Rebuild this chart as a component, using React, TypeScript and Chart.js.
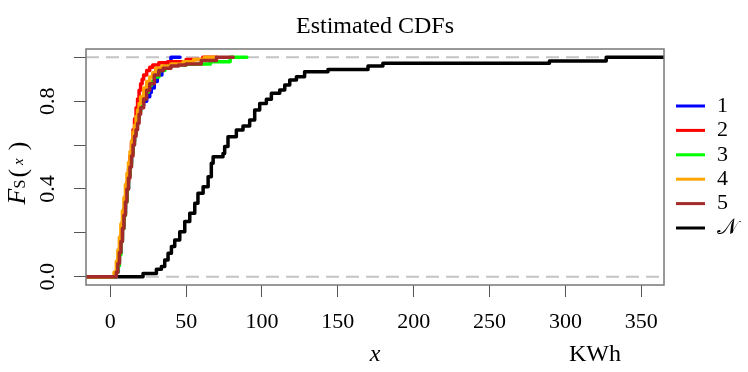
import React, { useEffect, useRef } from "react";
import { Chart, registerables } from "chart.js";

Chart.register(...registerables);

// ---------- data ----------
const seriesLabels = ["1", "2", "3", "4", "5", "𝒩"];
const seriesColors = ["#0000FF", "#FF0000", "#00FF00", "#FFA500", "#A52A2A", "#000000"];

const s1X = [-16, 3.5, 5, 6, 7, 8, 9, 10, 11, 12, 13, 14, 15, 16, 17, 18, 19, 20, 22, 24, 26, 27, 29, 31, 34, 36, 38, 40, 46];
const s1F = [0, 0.02, 0.06, 0.11, 0.17, 0.23, 0.29, 0.35, 0.4, 0.46, 0.52, 0.57, 0.62, 0.66, 0.7, 0.73, 0.76, 0.78, 0.8, 0.82, 0.84, 0.86, 0.89, 0.92, 0.95, 0.97, 0.98, 1.0, 1.0];

const s2X = [-16, 3, 4.5, 6, 7, 8, 9, 10, 11, 12, 13, 14, 15, 16, 17, 18, 19, 20, 21, 22, 24, 26, 28, 32, 38, 50, 61, 70];
const s2F = [0, 0.02, 0.07, 0.13, 0.19, 0.25, 0.31, 0.37, 0.43, 0.49, 0.55, 0.61, 0.67, 0.72, 0.77, 0.81, 0.85, 0.88, 0.9, 0.92, 0.94, 0.955, 0.965, 0.975, 0.98, 0.99, 1.0, 1.0];

const s3X = [-16, 3.5, 5, 6, 7, 8, 9, 10, 11, 12, 13, 14, 15, 16, 17, 18, 19, 20, 21, 23, 25, 27, 29, 32, 36, 40, 50, 57, 66, 79, 90];
const s3F = [0, 0.02, 0.05, 0.1, 0.16, 0.22, 0.28, 0.34, 0.4, 0.46, 0.51, 0.56, 0.61, 0.65, 0.69, 0.72, 0.75, 0.78, 0.81, 0.84, 0.87, 0.89, 0.91, 0.94, 0.955, 0.965, 0.968, 0.97, 0.98, 1.0, 1.0];

const s4X = [-16, 2.5, 4, 5, 6, 7, 8, 9, 10, 11, 12, 13, 14, 15, 16, 17, 18, 19, 20, 22, 24, 26, 28, 30, 34, 40, 48, 55, 62, 70];
const s4F = [0, 0.02, 0.07, 0.12, 0.18, 0.24, 0.3, 0.36, 0.42, 0.47, 0.52, 0.57, 0.62, 0.66, 0.69, 0.73, 0.76, 0.79, 0.82, 0.86, 0.89, 0.91, 0.93, 0.95, 0.96, 0.97, 0.98, 0.99, 1.0, 1.0];

const s5X = [-16, 4, 5, 6, 7, 8, 9, 10, 11, 12, 13, 14, 15, 16, 17, 18, 19, 20, 22, 24, 26, 29, 32, 35, 40, 45, 50, 60, 70, 81];
const s5F = [0, 0.02, 0.06, 0.11, 0.16, 0.22, 0.28, 0.34, 0.4, 0.45, 0.5, 0.55, 0.6, 0.64, 0.67, 0.7, 0.74, 0.77, 0.81, 0.85, 0.88, 0.92, 0.94, 0.95, 0.96, 0.965, 0.97, 0.985, 1.0, 1.0];

const sNX = [-16, 21.6, 30.4, 33.7, 35.9, 38.1, 40.3, 42.5, 45.8, 49.1, 52.4, 55.7, 57.8, 61.2, 64.5, 66.6, 67.8, 74.3, 75.4, 77.6, 83.1, 87.5, 91.9, 95.2, 98.5, 102.9, 106.2, 111.7, 115.0, 118.3, 122.7, 128.1, 143.5, 169.9, 179.7, 289.5, 326.9, 365];
const sNF = [0, 0.015, 0.034, 0.046, 0.076, 0.107, 0.137, 0.167, 0.205, 0.251, 0.289, 0.335, 0.38, 0.41, 0.456, 0.517, 0.547, 0.562, 0.593, 0.638, 0.669, 0.687, 0.714, 0.76, 0.79, 0.809, 0.836, 0.851, 0.874, 0.897, 0.912, 0.934, 0.945, 0.96, 0.973, 0.983, 1.0, 1.0];

const seriesX = [s1X, s2X, s3X, s4X, s5X, sNX];
const seriesF = [s1F, s2F, s3F, s4F, s5F, sNF];

const xTickValues = [0, 50, 100, 150, 200, 250, 300, 350];
const xTickLabels = ["0", "50", "100", "150", "200", "250", "300", "350"];
const yTickValues = [0, 0.2, 0.4, 0.6, 0.8, 1.0];
const yTickLabels = ["0.0", "", "0.4", "", "0.8", ""];
const refLevels = [0, 1];

const titleText = "Estimated CDFs";
const xTitle = "x";
const unitText = "KWh";

const SERIF = "'Liberation Serif', 'DejaVu Serif', serif";

const decor = {
  id: "decor",
  beforeDatasetsDraw(chart: any) {
    const { ctx, chartArea: a, scales } = chart;
    ctx.save();
    ctx.strokeStyle = "#c4c4c4";
    ctx.lineWidth = 2;
    ctx.setLineDash([13, 7]);
    for (const v of refLevels) {
      const py = scales.y.getPixelForValue(v);
      ctx.beginPath();
      ctx.moveTo(a.left, py);
      ctx.lineTo(a.right, py);
      ctx.stroke();
    }
    ctx.restore();
  },
  afterDraw(chart: any) {
    const { ctx, chartArea: a, data } = chart;
    ctx.save();
    // box
    ctx.strokeStyle = "#777";
    ctx.lineWidth = 1.5;
    ctx.strokeRect(a.left, a.top, a.right - a.left, a.bottom - a.top);

    const cx = (a.left + a.right) / 2;
    const cy = (a.top + a.bottom) / 2;
    ctx.fillStyle = "#000";
    ctx.textBaseline = "middle";

    // title
    ctx.textAlign = "center";
    ctx.font = `24px ${SERIF}`;
    ctx.fillText(titleText, cx, 27);

    // x title + unit
    ctx.font = `italic 24px ${SERIF}`;
    ctx.fillText(xTitle, cx, 355);
    ctx.font = `24px ${SERIF}`;
    ctx.fillText(unitText, 595, 355);

    // y title F_S(x)
    ctx.save();
    ctx.translate(19, cy + 6);
    ctx.rotate(-Math.PI / 2);
    ctx.textAlign = "left";
    const parts = [
      { t: "F", f: `italic 26px ${SERIF}`, dy: -1, gap: 0 },
      { t: "S", f: `16px ${SERIF}`, dy: 2, gap: 2 },
      { t: "(", f: `26px ${SERIF}`, dy: 0, gap: 4 },
      { t: "x", f: `italic 15px ${SERIF}`, dy: 0, gap: 8 },
      { t: ")", f: `26px ${SERIF}`, dy: 0, gap: 0 },
    ];
    let total = 0;
    for (const p of parts) { ctx.font = p.f; total += ctx.measureText(p.t).width + p.gap; }
    let px = -total / 2;
    for (const p of parts) {
      ctx.font = p.f;
      ctx.fillText(p.t, px, p.dy);
      px += ctx.measureText(p.t).width + p.gap;
    }
    ctx.restore();

    // legend
    const n = data.datasets.length;
    const step = 24.4;
    const y0 = cy - ((n - 1) * step) / 2;
    ctx.textAlign = "left";
    ctx.font = `22px ${SERIF}`;
    data.datasets.forEach((ds: any, i: number) => {
      const yy = y0 + i * step;
      ctx.strokeStyle = ds.borderColor;
      ctx.lineWidth = 3;
      ctx.beginPath();
      ctx.moveTo(a.right + 12, yy);
      ctx.lineTo(a.right + 41, yy);
      ctx.stroke();
      ctx.fillStyle = "#000";
      ctx.fillText(ds.label, a.right + 53, yy);
    });
    ctx.restore();
  },
};

export default function App() {
  const ref = useRef<HTMLCanvasElement | null>(null);
  useEffect(() => {
    document.body.style.margin = "0";
    const canvas = ref.current!;
    const datasets = seriesX.map((xs, k) => ({
      label: seriesLabels[k],
      data: xs.map((x, i) => ({ x, y: seriesF[k][i] })),
      borderColor: seriesColors[k],
      backgroundColor: seriesColors[k],
      borderWidth: 3.5,
      pointRadius: 0,
      stepped: true,
      fill: false,
      order: k === 5 ? 10 : 5 - k,
      borderCapStyle: "round",
      borderJoinStyle: "round",
    }));
    const chart = new Chart(canvas, {
      type: "line",
      data: { datasets } as any,
      options: {
        animation: false,
        responsive: false,
        devicePixelRatio: 1,
        parsing: false,
        layout: { padding: { top: 49, right: 84, left: 0, bottom: 0 } },
        plugins: { legend: { display: false }, title: { display: false }, tooltip: { enabled: false } },
        scales: {
          x: {
            type: "linear",
            min: -16,
            max: 365,
            afterBuildTicks: (s: any) => { s.ticks = xTickValues.map((v) => ({ value: v })); },
            afterFit: (s: any) => { s.height = 87; },
            grid: { display: true, drawOnChartArea: false, drawTicks: true, tickLength: 12, tickColor: "#555", tickWidth: 1 },
            border: { display: false },
            ticks: {
              font: { family: SERIF, size: 22 },
              color: "#000",
              padding: 12,
              maxRotation: 0,
              minRotation: 0,
              autoSkip: false,
              callback: (v: any) => { const i = xTickValues.indexOf(Number(v)); return i >= 0 ? xTickLabels[i] : ""; },
            },
          },
          y: {
            type: "linear",
            min: -0.038,
            max: 1.038,
            afterBuildTicks: (s: any) => { s.ticks = yTickValues.map((v) => ({ value: v })); },
            afterFit: (s: any) => { s.width = 86; },
            grid: { display: true, drawOnChartArea: false, drawTicks: true, tickLength: 12, tickColor: "#555", tickWidth: 1 },
            border: { display: false },
            ticks: {
              font: { family: SERIF, size: 22 },
              color: "#000",
              padding: 12,
              minRotation: 90,
              maxRotation: 90,
              crossAlign: "center",
              autoSkip: false,
              callback: (v: any) => { const i = yTickValues.findIndex((t) => Math.abs(t - Number(v)) < 1e-9); return i >= 0 ? yTickLabels[i] : ""; },
            },
          },
        },
      } as any,
      plugins: [decor],
    });
    return () => chart.destroy();
  }, []);
  return (
    <div style={{ width: 748, height: 372 }}>
      <canvas ref={ref} width={748} height={372} style={{ display: "block" }} />
    </div>
  );
}
